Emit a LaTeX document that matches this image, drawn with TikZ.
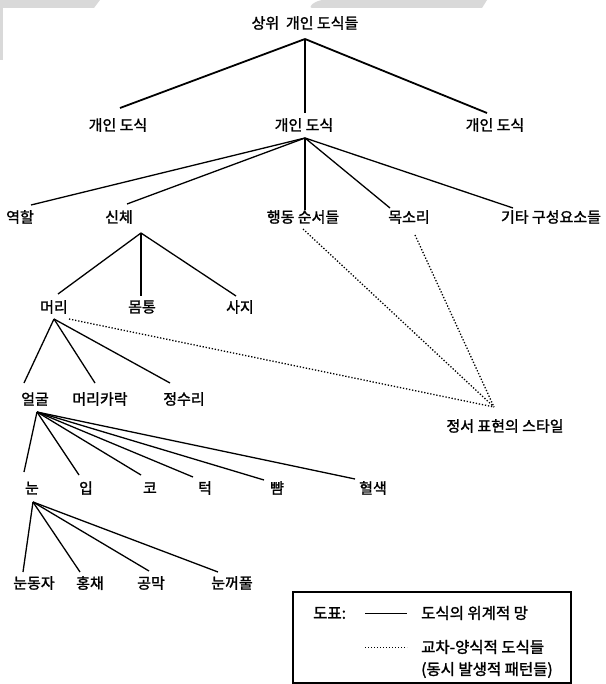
\documentclass[tikz,border=0pt]{standalone}
\usepackage{fontspec}
\setmainfont{Noto Sans CJK KR}[FakeBold=1.6,AutoFakeBold=1.6]
\usetikzlibrary{calc}
\begin{document}
\begin{tikzpicture}[x=1pt,y=-1pt,
  lbl/.style={inner sep=0pt, font=\fontsize{15}{17}\selectfont\bfseries},
  leg/.style={inner sep=0pt, anchor=west, font=\fontsize{15.5}{17}\selectfont\bfseries},
  thick1/.style={line width=1.8pt},
  link/.style={line width=1.3pt},
  cross/.style={line width=1.3pt, dash pattern=on 1.3pt off 1.8pt}]
\useasboundingbox (0,0) rectangle (605,684);
\fill[white] (0,0) rectangle (605,684);
% scan shading at top
\fill[gray!30] (0,0) -- (100,0) -- (94,8) -- (0,8) -- cycle;
\fill[gray!30] (0,8) rectangle (3,60);
\fill[gray!30] (322,0) -- (487,0) -- (482,8) -- (312,8) .. controls (308,8) and (312,2) .. (322,0) -- cycle;
% nodes
\node[lbl] (title) at (305,23) {상위\ \ 개인 도식들};
\node[lbl] (s1) at (118,125) {개인 도식};
\node[lbl] (s2) at (304,125) {개인 도식};
\node[lbl] (s3) at (495,125) {개인 도식};
\node[lbl] (role) at (20,217) {역할};
\node[lbl] (body) at (119,217) {신체};
\node[lbl] (act) at (303,217) {행동 순서들};
\node[lbl] (voice) at (409,217) {목소리};
\node[lbl] (other) at (551,217) {기타 구성요소들};
\node[lbl] (head) at (54,307) {머리};
\node[lbl] (trunk) at (142,307) {몸통};
\node[lbl] (limbs) at (240,307) {사지};
\node[lbl] (face) at (35,399) {얼굴};
\node[lbl] (hair) at (100,399) {머리카락};
\node[lbl] (crown) at (184,399) {정수리};
\node[lbl] (emo) at (505,426) {정서 표현의 스타일};
\node[lbl] (eye) at (32,488) {눈};
\node[lbl] (mouth) at (86,488) {입};
\node[lbl] (nose) at (150,488) {코};
\node[lbl] (chin) at (205,488) {턱};
\node[lbl] (cheek) at (277,488) {뺨};
\node[lbl] (color) at (373,488) {혈색};
\node[lbl] (pupil) at (34,583) {눈동자};
\node[lbl] (iris) at (90,583) {홍채};
\node[lbl] (sclera) at (151,583) {공막};
\node[lbl] (lid) at (232,583) {눈꺼풀};
% hierarchy
\draw[thick1] ($(title)+(0,16)$) -- ($(s1)+(2,-17)$);
\draw[thick1] ($(title)+(0,16)$) -- ($(s2)+(1,-12)$);
\draw[thick1] ($(title)+(0,16)$) -- ($(s3)+(-8,-12)$);
\foreach \n/\dx/\dy in {role/11/-12, body/8/-13, act/2/-7, voice/-19/-9, other/-38/-9}
  \draw[link] ($(s2)+(1,13)$) -- ($(\n)+(\dx,\dy)$);
\foreach \n/\dx/\dy in {head/4/-13, trunk/-1/-11, limbs/-4/-11}
  \draw[link] ($(body)+(22,16)$) -- ($(\n)+(\dx,\dy)$);
\foreach \n/\dx/\dy in {face/-11/-16, hair/-5/-16, crown/-14/-16}
  \draw[link] ($(head)+(0,12)$) -- ($(\n)+(\dx,\dy)$);
\foreach \n/\dx/\dy in {eye/-8/-16, mouth/-7/-13, nose/-9/-13, chin/-12/-11, cheek/-13/-8, color/-18/-9}
  \draw[link] ($(face)+(2,13)$) -- ($(\n)+(\dx,\dy)$);
\foreach \n/\dx/\dy in {pupil/-11/-11, iris/-10/-11, sclera/-2/-12, lid/-14/-11}
  \draw[link] ($(eye)+(1,14)$) -- ($(\n)+(\dx,\dy)$);
% cross-modal
\coordinate (conv) at ($(emo)+(-11,-19)$);
\draw[cross] ($(head)+(15,12)$) -- (conv);
\draw[cross] ($(act)+(0,12)$) -- (conv);
\draw[cross] ($(voice)+(6,18)$) -- (conv);
% legend
\draw[line width=1.4pt] (293,592) rectangle (571,683);
\node[leg] (lgtitle) at (313,613) {도표:};
\coordinate (ls1) at (365,613);
\coordinate (ls2) at (407,613);
\coordinate (ld1) at (365,647);
\coordinate (ld2) at (407,647);
\draw[line width=1pt] (ls1) -- (ls2);
\draw[line width=1pt, dash pattern=on 1pt off 2pt] (ld1) -- (ld2);
\node[leg] (lg1) at (421,613) {도식의 위계적 망};
\node[leg] (lg2) at (421,647) {교차-양식적 도식들};
\node[leg] (lg3) at (421,670) {(동시 발생적 패턴들)};
\end{tikzpicture}
\end{document}
